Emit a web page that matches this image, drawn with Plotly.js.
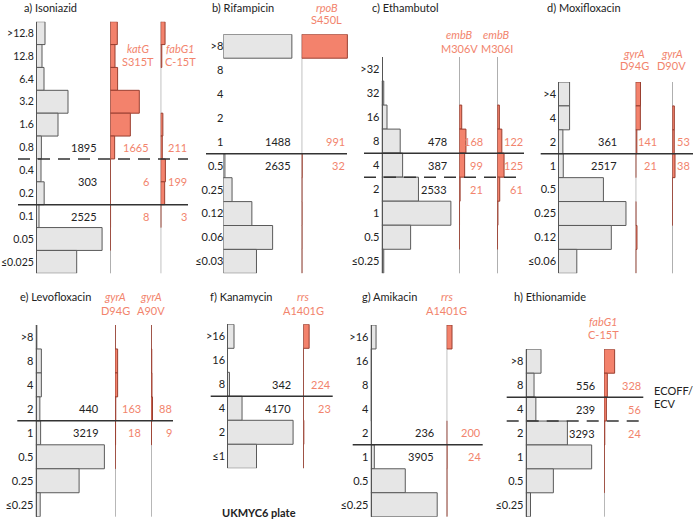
<!DOCTYPE html>
<html><head><meta charset="utf-8">
<script src="https://cdn.plot.ly/plotly-3.0.1.min.js"></script>
<style>html,body{margin:0;padding:0;background:#fff}#chart{width:693px;height:521px}</style>
</head><body><div id="chart"></div>
<script>
// ---------------- DATA (isolate counts per MIC row, top row first) ----------------
const a_rows = [">12.8","12.8","6.4","3.2","1.6","0.8","0.4","0.2","0.1","0.05","≤0.025"];
const a_wt = [207,138,184,736,506,124,115,188,69,1520,936];
const a_katG = [161,108,168,667,461,100,3,3,6,2,0];
const a_fabG1 = [100,25,0,0,50,36,108,91,3,0,0];
const a_n_wt = [1895,303,2525], a_n_katG = [1665,6,8], a_n_fabG1 = [211,199,3];

const b_rows = [">8","8","4","2","1","0.5","0.25","0.12","0.06","≤0.03"];
const b_wt = [1488,0,0,0,0,35,190,620,1070,720];
const b_rpoB = [991,0,0,0,0,10,5,7,6,4];
const b_n_wt = [1488,2635], b_n_rpoB = [991,32];

const c_rows = [">32","32","16","8","4","2","1","0.5","≤0.25"];
const c_wt = [0,38,98,342,387,680,1280,535,38];
const c_M306V = [0,0,45,123,99,15,4,2,0];
const c_M306I = [0,0,38,84,125,45,12,4,0];
const c_n_wt = [478,387,2533], c_n_M306V = [168,99,21], c_n_M306I = [122,125,61];

const d_rows = [">4","4","2","1","0.5","0.25","0.12","≤0.06"];
const d_wt = [150,150,61,66,600,900,705,246];
const d_D94G = [64,62,15,1,0,2,17,1];
const d_D90V = [0,27,26,36,1,1,0,0];
const d_n_wt = [361,2517], d_n_D94G = [141,21], d_n_D90V = [53,38];

const e_rows = [">8","8","4","2","1","0.5","0.25","≤0.25"];
const e_wt = [30,150,150,110,130,1820,1150,119];
const e_D94G = [3,70,70,20,15,3,0,0];
const e_A90V = [2,20,26,40,9,0,0,0];
const e_n_wt = [440,3219], e_n_D94G = [163,18], e_n_A90V = [88,9];

const f_rows = [">16","16","8","4","2","≤1"];
const f_wt = [255,5,82,560,2500,1110];
const f_rrs = [222,1,1,1,20,2];
const f_n_wt = [342,4170], f_n_rrs = [224,23];

const g_rows = [">16","16","8","4","2","1","0.5","≤0.25"];
const g_wt = [200,3,2,1,30,135,1290,2480];
const g_rrs = [198,0,0,0,2,12,6,6];
const g_n_wt = [236,3905], g_n_rrs = [200,24];

const h_rows = [">8","8","4","2","1","0.5","≤0.25"];
const h_wt = [360,196,239,980,1550,650,113];
const h_fabG1 = [250,78,56,18,4,2,0];
const h_n_wt = [556,239,3293], h_n_fabG1 = [328,56,24];

// ---------------- LAYOUT CONFIG (pixel positions) ----------------
const W = 693, H = 521;
const FONT = "Lato, 'Noto Sans', sans-serif";
const DARK = '#222', SALMON = '#f2846d';
const GREY_FILL = '#e6e6e6', GREY_LINE = '#5a5a5a', RED_FILL = '#f3826c', RED_LINE = '#9a3f30';

const panels = [
 {title:'a) Isoniazid', tx:22, ty:7, rows:a_rows, top:21.7, bot:273.3, scale:23, axisLine:true, tickSize:10.5,
  wt:{vals:a_wt, x0:36, counts:a_n_wt, right:99},
  muts:[{gene:'katG', mut:'S315T', vals:a_katG, x0:110.3, lx:138.3, ly:[49,61.7], counts:a_n_katG, right:150.5},
        {gene:'fabG1', mut:'C-15T', vals:a_fabG1, x0:160.7, lx:180.5, ly:[49,61.7], counts:a_n_fabG1, right:188.5}],
  lines:[{after:'0.8', dash:true},{after:'0.2', dash:false}], lx0:18, lx1:188,
  countRows:['0.8',['0.4','0.2'],'0.1']},
 {title:'b) Rifampicin', tx:210, ty:7, rows:b_rows, top:34.3, bot:273.3, scale:21.7, axisLine:false,
  wt:{vals:b_wt, x0:223.3, counts:b_n_wt, right:292.7},
  muts:[{gene:'rpoB', mut:'S450L', vals:b_rpoB, x0:301.7, lx:326.7, ly:[7,20], counts:b_n_rpoB, right:346.5}],
  lines:[{after:'1', dash:false}], lx0:206, lx1:347,
  countRows:['1','0.5']},
 {title:'c) Ethambutol', tx:370, ty:7, rows:c_rows, top:57, bot:273.3, scale:18.5, axisLine:true,
  wt:{vals:c_wt, x0:381.7, counts:c_n_wt, right:449.3},
  muts:[{gene:'embB', mut:'M306V', vals:c_M306V, x0:459.3, lx:459, ly:[35,48.3], counts:c_n_M306V, right:485.3},
        {gene:'embB', mut:'M306I', vals:c_M306I, x0:497.3, lx:496.7, ly:[35,48.3], counts:c_n_M306I, right:525}],
  lines:[{after:'8', dash:false},{after:'4', dash:true}], lx0:364, lx1:524,
  countRows:['8','4','2']},
 {title:'d) Moxifloxacin', tx:545, ty:7, rows:d_rows, top:82, bot:273.3, scale:13.3, axisLine:true,
  wt:{vals:d_wt, x0:558.3, counts:d_n_wt, right:619.3},
  muts:[{gene:'gyrA', mut:'D94G', vals:d_D94G, x0:635.7, lx:634, ly:[53.3,66], counts:d_n_D94G, right:659},
        {gene:'gyrA', mut:'D90V', vals:d_D90V, x0:672.3, lx:671.7, ly:[53.3,66], counts:d_n_D90V, right:691.7}],
  lines:[{after:'2', dash:false}], lx0:540.7, lx1:693,
  countRows:['2','1']},
 {title:'e) Levofloxacin', tx:18, ty:296.7, rows:e_rows, top:325, bot:516.7, scale:26.5, axisLine:true,
  wt:{vals:e_wt, x0:35.7, counts:e_n_wt, right:101},
  muts:[{gene:'gyrA', mut:'D94G', vals:e_D94G, x0:115, lx:115, ly:[296.7,310], counts:e_n_D94G, right:143.3},
        {gene:'gyrA', mut:'A90V', vals:e_A90V, x0:151, lx:150.7, ly:[296.7,310], counts:e_n_A90V, right:174}],
  lines:[{after:'2', dash:false}], lx0:17.3, lx1:173,
  countRows:['2','1']},
 {title:'f) Kanamycin', tx:208, ty:296.7, rows:f_rows, top:324.3, bot:468.3, scale:38, axisLine:true,
  wt:{vals:f_wt, x0:227.3, counts:f_n_wt, right:293.3},
  muts:[{gene:'rrs', mut:'A1401G', vals:f_rrs, x0:303.3, lx:303.3, ly:[296.7,310], counts:f_n_rrs, right:332.7}],
  lines:[{after:'8', dash:false}], lx0:210.7, lx1:332.7,
  countRows:['8','4']},
 {title:'g) Amikacin', tx:360, ty:296.7, rows:g_rows, top:325, bot:516.7, scale:37.3, axisLine:true,
  wt:{vals:g_wt, x0:370.7, counts:g_n_wt, right:435.7},
  muts:[{gene:'rrs', mut:'A1401G', vals:g_rrs, x0:446.7, lx:446.7, ly:[296.7,310], counts:g_n_rrs, right:482.7}],
  lines:[{after:'2', dash:false}], lx0:352.7, lx1:482.7,
  countRows:['2','1']},
 {title:'h) Ethionamide', tx:512, ty:296.7, rows:h_rows, top:349.3, bot:516.7, scale:23.5, axisLine:true,
  wt:{vals:h_wt, x0:525.7, counts:h_n_wt, right:596.7},
  muts:[{gene:'fabG1', mut:'C-15T', vals:h_fabG1, x0:604, lx:603.3, ly:[321.7,334], counts:h_n_fabG1, right:643.3}],
  lines:[{after:'8', dash:false},{after:'4', dash:true}], lx0:506.7, lx1:643.3,
  countRows:['8','4','2']}
];

// ---------------- BUILD ----------------
const traces = [], shapes = [], annotations = [];
const layout = {
  width: W, height: H, margin: {l:0, r:0, t:0, b:0},
  paper_bgcolor: '#fff', plot_bgcolor: 'rgba(0,0,0,0)',
  bargap: 0, showlegend: false, font: {family: FONT, size: 11, color: DARK}
};
const px = x => x / W, py = y => 1 - y / H;
let xi = 0;

panels.forEach((p, pi) => {
  const yId = pi === 0 ? 'y' : 'y' + (pi + 1);
  const yKey = pi === 0 ? 'yaxis' : 'yaxis' + (pi + 1);
  const n = p.rows.length;
  const pos = lab => n - 1 - p.rows.indexOf(lab);
  layout[yKey] = {
    domain: [py(p.bot), py(p.top)], type: 'category', categoryorder: 'array',
    categoryarray: p.rows.slice().reverse(), range: [-0.5, n - 0.5],
    anchor: 'free', position: px(p.wt.x0), showline: p.axisLine, linecolor: '#555', linewidth: 1,
    ticks: '', ticklabelstandoff: 0, tickfont: {family: FONT, size: p.tickSize || 11, color: DARK},
    showgrid: false, zeroline: false, fixedrange: true
  };
  const cols = [Object.assign({kind:'wt'}, p.wt)].concat(p.muts.map(m => Object.assign({kind:'mut'}, m)));
  cols.forEach((c, ci) => {
    xi++;
    const xId = xi === 1 ? 'x' : 'x' + xi;
    const xKey = xi === 1 ? 'xaxis' : 'xaxis' + xi;
    const next = ci + 1 < cols.length ? cols[ci + 1].x0 : Math.min(W, c.x0 + 60);
    const L = next - c.x0 - 1;
    const wt = c.kind === 'wt';
    layout[xKey] = {domain: [px(c.x0), px(c.x0 + L)], range: [0, L * p.scale], anchor: yId, visible: false, fixedrange: true};
    traces.push({
      type: 'bar', orientation: 'h', x: c.vals.map(v => v === 0 ? null : v), y: p.rows, xaxis: xId, yaxis: yId,
      marker: {color: wt ? GREY_FILL : RED_FILL, line: {color: wt ? GREY_LINE : RED_LINE, width: 1}},
      hoverinfo: 'skip', showlegend: false
    });
    if (!wt) {
      shapes.push({type:'line', xref:xId, yref:yId + ' domain', x0:0, x1:0, y0:0, y1:1,
        line:{color:'#707070', width:1}, layer:'below'});
      annotations.push({xref:'paper', yref:'paper', x:px(c.lx), y:py(c.ly[0]), xanchor:'center', yanchor:'middle',
        text:'<i>' + c.gene + '</i>', showarrow:false, font:{family:FONT, size:11, color:SALMON}});
      annotations.push({xref:'paper', yref:'paper', x:px(c.lx), y:py(c.ly[1]), xanchor:'center', yanchor:'middle',
        text:c.mut, showarrow:false, font:{family:FONT, size:11, color:SALMON}});
    }
    c.counts.forEach((v, k) => {
      const r = p.countRows[k];
      const y = Array.isArray(r) ? (pos(r[0]) + pos(r[1])) / 2 : pos(r);
      annotations.push({xref:'paper', yref:yId, x:px(c.right), y:y, xanchor:'right', yanchor:'middle',
        text:String(v), showarrow:false, font:{family:FONT, size:11, color: wt ? DARK : SALMON}});
    });
  });
  p.lines.forEach(l => {
    const y = pos(l.after) - 0.5;
    shapes.push({type:'line', xref:'paper', yref:yId, x0:px(p.lx0), x1:px(p.lx1), y0:y, y1:y,
      line:{color:'#333', width:1.5, dash: l.dash ? '12px,8px' : 'solid'}, layer:'above'});
  });
  annotations.push({xref:'paper', yref:'paper', x:px(p.tx), y:py(p.ty), xanchor:'left', yanchor:'middle',
    text:p.title, showarrow:false, font:{family:FONT, size:11, color:DARK}});
});

annotations.push({xref:'paper', yref:'paper', x:px(651.7), y:py(390), xanchor:'left', yanchor:'middle',
  text:'ECOFF/', showarrow:false, font:{family:FONT, size:11, color:DARK}});
annotations.push({xref:'paper', yref:'paper', x:px(651.7), y:py(403.3), xanchor:'left', yanchor:'middle',
  text:'ECV', showarrow:false, font:{family:FONT, size:11, color:DARK}});
annotations.push({xref:'paper', yref:'paper', x:px(259.3), y:py(512.7), xanchor:'center', yanchor:'middle',
  text:'<b>UKMYC6 plate</b>', showarrow:false, font:{family:FONT, size:11, color:DARK}});

layout.shapes = shapes;
layout.annotations = annotations;
Plotly.newPlot('chart', traces, layout, {staticPlot: true, displayModeBar: false});
</script></body></html>
